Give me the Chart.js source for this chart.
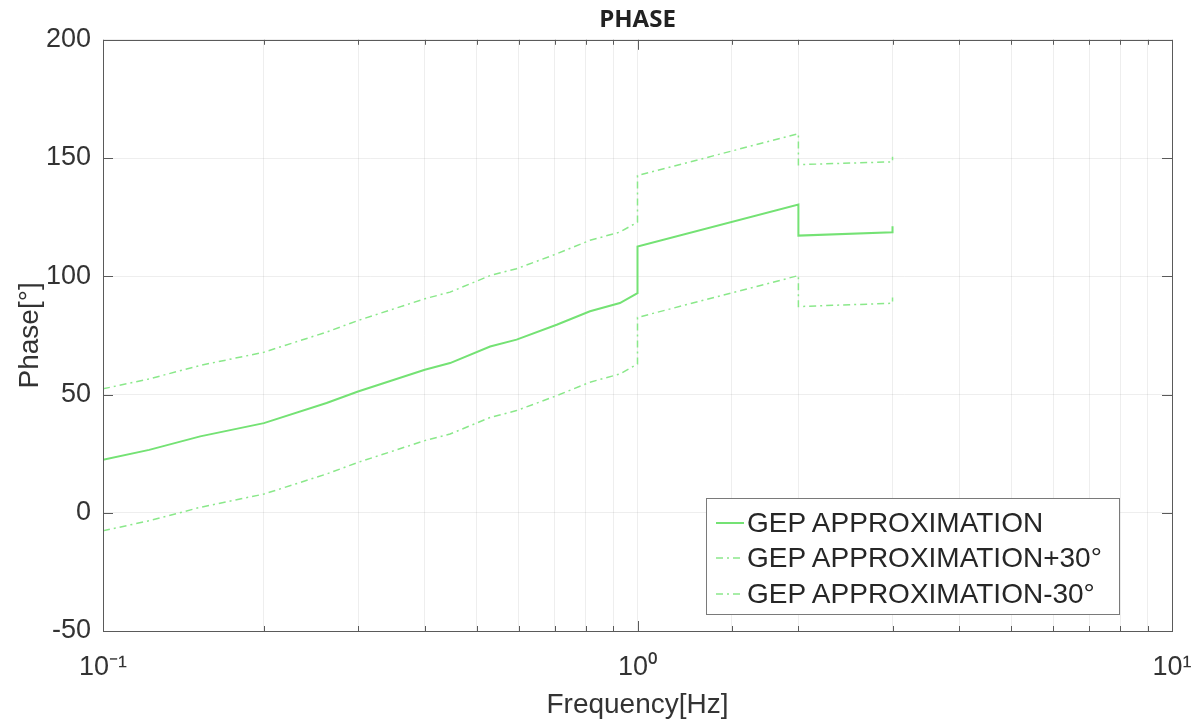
<!DOCTYPE html>
<html><head><meta charset="utf-8">
<script src="https://cdn.jsdelivr.net/npm/chart.js@4.4.1/dist/chart.umd.min.js"></script>
<style>
html,body{margin:0;padding:0;background:#fff;}
#wrap{position:relative;width:1202px;height:724px;overflow:hidden;}
#legend{position:absolute;left:706px;top:498px;width:414px;height:117px;border:1px solid #7a7a7a;background:#fff;box-sizing:border-box;font-family:'Liberation Sans',Arial,Helvetica,sans-serif;font-size:28px;color:#262626;}
.row{position:absolute;left:0;height:36px;display:flex;align-items:center;white-space:nowrap;}
.row canvas{margin-left:9px;margin-right:3px;}
</style></head>
<body><div id="wrap"><canvas id="c" width="1202" height="724"></canvas><div id="legend"></div></div>
<script>
// ---- data ----
const freq       = [0.1, 0.122, 0.152, 0.2, 0.262, 0.3, 0.4, 0.446, 0.53, 0.594, 0.706, 0.815, 0.927, 1.0, 1.0, 2.0, 2.0, 3.0, 3.0];
const phaseMain  = [22.4, 26.6, 32.3, 37.9, 46.4, 51.3, 60.5, 63.3, 70.3, 73.2, 79.5, 85.2, 88.7, 92.9, 112.6, 130.3, 117.2, 118.6, 121.2];
const phasePlus  = [52.4, 56.6, 62.3, 67.9, 76.4, 81.3, 90.5, 93.3, 100.3, 103.2, 109.5, 115.2, 118.7, 122.9, 142.6, 160.3, 147.2, 148.4, 150.5];
const phaseMinus = [-7.6, -3.4, 2.3, 7.9, 16.4, 21.3, 30.5, 33.3, 40.3, 43.2, 49.5, 55.2, 58.7, 62.9, 82.6, 100.3, 87.2, 88.6, 91.0];
const seriesLabels = ['GEP APPROXIMATION', 'GEP APPROXIMATION+30°', 'GEP APPROXIMATION-30°'];
const xTickValues = [0.1, 1, 10];
const xTickLabels = ['10⁻¹', '10⁰', '10¹'];
const yTickStep = 50;

const FONT = "'Liberation Sans', Arial, Helvetica, sans-serif";
const pts = arr => freq.map((f, i) => ({x: f, y: arr[i]}));
const isMajorX = v => xTickValues.findIndex(t => Math.abs(Math.log10(t) - Math.log10(v)) < 1e-6);

const framePlugin = {
  id: 'frame',
  afterLayout(chart) {
    if (chart.titleBlock) {
      chart.titleBlock.left = chart.chartArea.left;
      chart.titleBlock.right = chart.chartArea.right;
    }
  },
  afterDatasetsDraw(chart) {
    const {ctx, chartArea: a, scales: {x, y}} = chart;
    ctx.save();
    ctx.strokeStyle = '#5a5a5a';
    ctx.lineWidth = 1;
    ctx.beginPath();
    y.ticks.forEach(t => {
      const py = Math.round(y.getPixelForValue(t.value)) + 0.5;
      ctx.moveTo(a.left, py); ctx.lineTo(a.left + 10, py);
      ctx.moveTo(a.right, py); ctx.lineTo(a.right - 10, py);
    });
    x.ticks.forEach(t => {
      const px = Math.round(x.getPixelForValue(t.value)) + 0.5;
      const len = isMajorX(t.value) >= 0 ? 10 : 5;
      ctx.moveTo(px, a.bottom); ctx.lineTo(px, a.bottom - len);
      ctx.moveTo(px, a.top); ctx.lineTo(px, a.top + len);
    });
    ctx.stroke();
    ctx.strokeRect(Math.round(a.left) + 0.5, Math.round(a.top) + 0.5, Math.round(a.width), Math.round(a.height));
    ctx.restore();
  }
};

const chart = new Chart(document.getElementById('c'), {
  type: 'line',
  data: {
    datasets: [
      {label: seriesLabels[0], data: pts(phaseMain), borderColor: '#74e274', borderWidth: 2, pointRadius: 0, tension: 0},
      {label: seriesLabels[1], data: pts(phasePlus), borderColor: '#8ae88a', borderWidth: 1.5, borderDash: [7, 4, 2, 4], pointRadius: 0, tension: 0},
      {label: seriesLabels[2], data: pts(phaseMinus), borderColor: '#8ae88a', borderWidth: 1.5, borderDash: [7, 4, 2, 4], pointRadius: 0, tension: 0}
    ]
  },
  options: {
    responsive: false,
    animation: false,
    layout: {padding: {left: 0, right: 30, top: 0, bottom: 0}},
    plugins: {
      legend: {display: false},
      tooltip: {enabled: false},
      title: {
        display: true, text: 'PHASE', color: '#222',
        font: {family: "'Open Sans', sans-serif", size: 24, weight: 'bold', lineHeight: 1.2},
        padding: {top: 6, bottom: 5}
      }
    },
    scales: {
      x: {
        type: 'logarithmic', min: 0.1, max: 10,
        afterFit: s => { s.height = 93; s.paddingLeft = 0; s.paddingRight = 0; },
        border: {display: false},
        grid: {color: 'rgba(0,0,0,0.065)', drawTicks: false},
        ticks: {
          autoSkip: false, maxRotation: 0, padding: 20, color: '#333',
          font: {family: FONT, size: 27},
          callback: v => { const i = isMajorX(v); return i >= 0 ? xTickLabels[i] : ''; }
        },
        title: {display: true, text: 'Frequency[Hz]', color: '#333', font: {family: FONT, size: 28}, padding: {top: 0, bottom: 2}}
      },
      y: {
        min: -50, max: 200,
        afterFit: s => { s.width = 103; s.paddingTop = 0; s.paddingBottom = 0; },
        border: {display: false},
        grid: {color: 'rgba(0,0,0,0.065)', drawTicks: false},
        ticks: {stepSize: yTickStep, padding: 12, color: '#333', font: {family: FONT, size: 27}},
        title: {display: true, text: 'Phase[°]', color: '#333', font: {family: FONT, size: 28}, padding: {top: 13, bottom: 0}}
      }
    }
  },
  plugins: [framePlugin]
});

// HTML legend built from the chart's datasets
const legend = document.getElementById('legend');
const rowCenters = [24, 59, 95];
chart.data.datasets.forEach((ds, i) => {
  const row = document.createElement('div');
  row.className = 'row';
  row.style.top = (rowCenters[i] - 18) + 'px';
  const cv = document.createElement('canvas');
  cv.width = 28; cv.height = 10;
  const c = cv.getContext('2d');
  c.strokeStyle = ds.borderColor; c.lineWidth = ds.borderWidth;
  c.setLineDash(ds.borderDash || []);
  c.beginPath(); c.moveTo(0, 5); c.lineTo(28, 5); c.stroke();
  row.appendChild(cv);
  const span = document.createElement('span');
  span.textContent = ds.label;
  row.appendChild(span);
  legend.appendChild(row);
});
</script>
</body></html>
